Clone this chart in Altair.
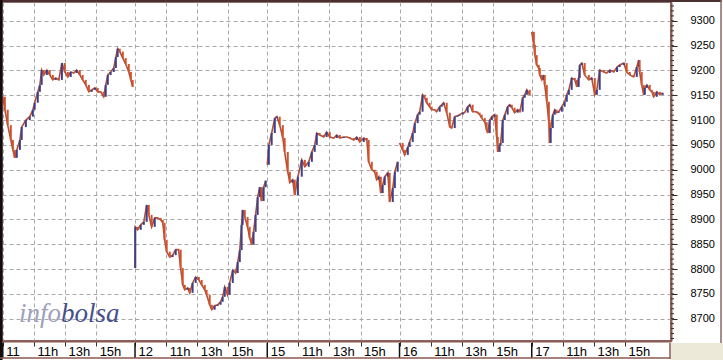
import altair as alt
import pandas as pd

# ---------------- data ----------------
DAY_LABELS = ["11", "12", "15", "16", "17"]
HOUR_LABELS = ["11h", "13h", "15h"]
HOUR_TICKS = [11, 13, 15]
SESSION_OPEN = 9.0
SESSION_LEN = 8.5  # 09:00 - 17:30

day11_time = ["09:00","09:08","09:19","09:31","09:39","09:46","09:54","10:06","10:13","10:29","10:44","10:56","11:03","11:15","11:23","11:30","11:38","11:50","12:01","12:13","12:24","12:36","12:48","12:59","13:11","13:22","13:34","13:45","13:57","14:08","14:20","14:32","14:43","14:55","15:06","15:18","15:29","15:37","15:45","15:56","16:08","16:16","16:23","16:31","16:43","16:54","17:06","17:14","17:21"]
day11_price = [9147,9121,9090,9060,9040,9024,9040,9060,9086,9100,9107,9121,9135,9157,9171,9201,9191,9201,9191,9181,9185,9181,9215,9197,9187,9197,9195,9201,9191,9181,9171,9157,9161,9165,9157,9157,9147,9171,9191,9197,9205,9227,9244,9238,9225,9213,9197,9181,9167]

day12_time = ["09:00","09:01","09:10","09:22","09:34","09:45","09:53","10:04","10:16","10:27","10:39","10:47","10:54","11:02","11:14","11:25","11:37","11:48","11:56","12:04","12:12","12:23","12:31","12:42","12:54","13:06","13:17","13:29","13:36","13:48","13:56","14:07","14:19","14:30","14:38","14:46","14:57","15:05","15:17","15:28","15:36","15:44","15:51","15:55","16:03","16:14","16:22","16:30","16:37","16:45","16:53","17:01","17:08","17:16","17:24"]
day12_price = [8802,8885,8879,8889,8895,8929,8909,8885,8903,8903,8899,8893,8859,8835,8824,8828,8839,8839,8802,8768,8758,8762,8752,8772,8784,8778,8768,8758,8748,8728,8718,8726,8728,8734,8744,8764,8748,8772,8798,8792,8814,8838,8889,8919,8905,8885,8863,8849,8875,8909,8945,8965,8937,8965,8978]

day15_time = ["09:00","09:06","09:17","09:29","09:37","09:48","10:00","10:07","10:19","10:27","10:38","10:46","10:58","11:13","11:25","11:40","11:52","12:03","12:11","12:22","12:38","12:49","13:01","13:16","13:28","13:40","13:55","14:07","14:18","14:34","14:45","14:57","15:12","15:24","15:31","15:43","15:54","16:02","16:10","16:18","16:25","16:33","16:45","16:52","17:04","17:12","17:23"]
day15_price = [9010,9050,9074,9104,9107,9090,9064,9036,8996,8974,8980,8949,8986,9020,9006,9016,9036,9050,9074,9070,9066,9076,9066,9064,9070,9064,9066,9066,9064,9060,9066,9056,9064,9060,9016,9000,8996,8980,8986,8953,8969,8986,8994,8935,8963,8996,9016]

day16_time = ["09:00","09:12","09:20","09:32","09:39","09:51","09:59","10:10","10:18","10:29","10:37","10:45","10:56","11:04","11:16","11:23","11:35","11:43","11:50","12:02","12:14","12:21","12:33","12:44","12:52","13:04","13:11","13:23","13:31","13:42","13:54","14:02","14:09","14:17","14:29","14:36","14:40","14:48","14:56","15:07","15:15","15:19","15:26","15:30","15:38","15:46","15:57","16:05","16:13","16:24","16:36","16:44","16:55","17:03","17:11","17:22"]
day16_price = [9054,9040,9030,9046,9056,9074,9094,9111,9117,9151,9145,9135,9127,9121,9121,9117,9127,9131,9135,9115,9086,9084,9107,9109,9111,9115,9115,9127,9131,9117,9117,9115,9111,9104,9096,9080,9074,9100,9107,9111,9066,9036,9050,9054,9100,9111,9127,9131,9125,9115,9121,9117,9145,9151,9161,9151]

day17_time = ["09:00","09:08","09:12","09:19","09:27","09:31","09:39","09:46","09:50","09:58","10:06","10:09","10:13","10:21","10:29","10:36","10:44","10:56","11:07","11:15","11:23","11:34","11:46","11:54","12:01","12:05","12:13","12:24","12:40","12:51","13:03","13:11","13:22","13:38","13:49","14:01","14:16","14:29","14:39","14:55","15:06","15:18","15:33","15:45","15:53","15:56","16:04","16:12","16:16","16:24","16:35","16:43","16:50","17:02","17:14","17:25"]
day17_price = [9278,9252,9231,9211,9205,9191,9181,9191,9171,9137,9096,9054,9084,9111,9121,9115,9117,9127,9137,9151,9161,9185,9181,9167,9185,9211,9215,9191,9181,9185,9151,9161,9201,9197,9195,9201,9197,9207,9211,9215,9197,9191,9187,9207,9221,9197,9171,9151,9165,9171,9161,9157,9147,9157,9151,9155]

Y_MAJOR = [8700, 8750, 8800, 8850, 8900, 8950, 9000, 9050, 9100, 9150, 9200, 9250, 9300]
Y_MINOR = list(range(8660, 9340, 10))

# ---------------- build tables ----------------
days = [(day11_time, day11_price), (day12_time, day12_price), (day15_time, day15_price),
        (day16_time, day16_price), (day17_time, day17_price)]
rows = []
for i, (times, prices) in enumerate(days):
    prev = None
    for t, p in zip(times, prices, strict=True):
        h, m = t.split(":")
        hours = int(h) + int(m) / 60.0 - SESSION_OPEN
        rows.append({"day": DAY_LABELS[i], "slot": i * SESSION_LEN + hours, "price": p,
                     "prev": p if prev is None else prev,
                     "dir": "up" if (prev is None or p >= prev) else "down"})
        prev = p
df = pd.DataFrame(rows)

tick_vals, tick_labs = [], []
for i, d in enumerate(DAY_LABELS):
    tick_vals.append(i * SESSION_LEN)
    tick_labs.append(d)
    for hh, lab in zip(HOUR_TICKS, HOUR_LABELS):
        tick_vals.append(i * SESSION_LEN + hh - SESSION_OPEN)
        tick_labs.append(lab)
label_expr = " : ".join(f"datum.value == {v} ? '{l}'" for v, l in zip(tick_vals, tick_labs)) + " : ''"
day_df = pd.DataFrame({"slot": [i * SESSION_LEN for i in range(len(DAY_LABELS))]})
minor_df = pd.DataFrame({"price": Y_MINOR})

W, H = 669, 339
RED, BLUE = "#d2522a", "#3a3f8e"
BROWN = "#8a5a50"
GRID = "#a8a8a8"

xs = alt.Scale(domain=[-0.05, 42.95], nice=False, zero=False)
ys = alt.Scale(domain=[8655, 9338], nice=False, zero=False)
xaxis = alt.Axis(values=tick_vals, labelExpr=label_expr, grid=True, gridColor=GRID, gridDash=[4, 3],
                 tickSize=5, tickColor="#333333", domainColor=BROWN, domainWidth=2,
                 labelAlign="left", labelOffset=3, labelPadding=-1, labelFont="Liberation Sans",
                 labelFontSize=13, labelColor="#000000", labelOverlap=False, labelFlush=False,
                 labelBound=False, title=None, orient="bottom")
yaxis = alt.Axis(values=Y_MAJOR, format="d", grid=True, gridColor=GRID, gridDash=[4, 3],
                 tickSize=6, tickColor="#2a2a2a", domainColor=BROWN, domainWidth=2,
                 labelPadding=13, labelFont="Liberation Sans", labelFontSize=11,
                 labelColor="#000000", labelAlign="left", title=None, orient="right")

one = pd.DataFrame({"a": [0]})

def vrule(x, y1, y2, color, w):
    return alt.Chart(one).mark_rule(color=color, strokeWidth=w).encode(
        x=alt.value(x), y=alt.value(y1), y2=alt.value(y2))

def hrule(y, x1, x2, color, w):
    return alt.Chart(one).mark_rule(color=color, strokeWidth=w).encode(
        y=alt.value(y), x=alt.value(x1), x2=alt.value(x2))

corner = alt.Chart(one).mark_rect(color="#ece9d8").encode(
    x=alt.value(669), x2=alt.value(722), y=alt.value(341), y2=alt.value(360))

line = alt.Chart(df).mark_line(strokeWidth=1.6, color="#b44e36").encode(
    x=alt.X("slot:Q", scale=xs, axis=xaxis),
    y=alt.Y("price:Q", scale=ys, axis=yaxis),
    detail="day:N",
)
rules = alt.Chart(df).mark_rule(strokeWidth=2).encode(
    x=alt.X("slot:Q", scale=xs, axis=xaxis),
    y=alt.Y("prev:Q", scale=ys, axis=yaxis),
    y2="price:Q",
    color=alt.Color("dir:N", scale=alt.Scale(domain=["up", "down"], range=[BLUE, RED]), legend=None),
)
day_ticks = alt.Chart(day_df).mark_rule(color="#111111", strokeWidth=1.5).encode(
    x=alt.X("slot:Q", scale=xs, axis=xaxis), y=alt.value(341), y2=alt.value(356))
minor = alt.Chart(minor_df).mark_rule(color="#3a2a2a", strokeWidth=1).encode(
    y=alt.Y("price:Q", scale=ys, axis=yaxis), x=alt.value(669), x2=alt.value(672))

logo_info = alt.Chart(one).mark_text(text="info", font="Liberation Serif", fontStyle="italic",
                                     fontSize=27, color="#a0a0bc", align="left",
                                     baseline="alphabetic").encode(x=alt.value(17), y=alt.value(320))
logo_bolsa = alt.Chart(one).mark_text(text="bolsa", font="Liberation Serif", fontStyle="italic",
                                      fontSize=27, color="#45508c", align="left",
                                      baseline="alphabetic").encode(x=alt.value(59), y=alt.value(320))

chart = alt.layer(
    corner,
    logo_info, logo_bolsa,
    line, rules, day_ticks, minor,
    hrule(-1, -2, 720, "#4a3030", 2),
    vrule(-1, -2, 358, "#140c0c", 3),
    vrule(719, -2, 341, "#8a6a60", 1.5),
    hrule(356, -2, 668, BROWN, 1.5),
    vrule(668, 341, 357, BROWN, 1.5),
).properties(
    width=W, height=H,
    padding={"left": 2, "top": 2, "right": 52, "bottom": 19},
    autosize=alt.AutoSizeParams(type="none"),
    background="#ffffff",
).configure_view(stroke="#6a4040", strokeWidth=1.5)

chart.save("out.html", embed_options={"renderer": "svg", "actions": False})
